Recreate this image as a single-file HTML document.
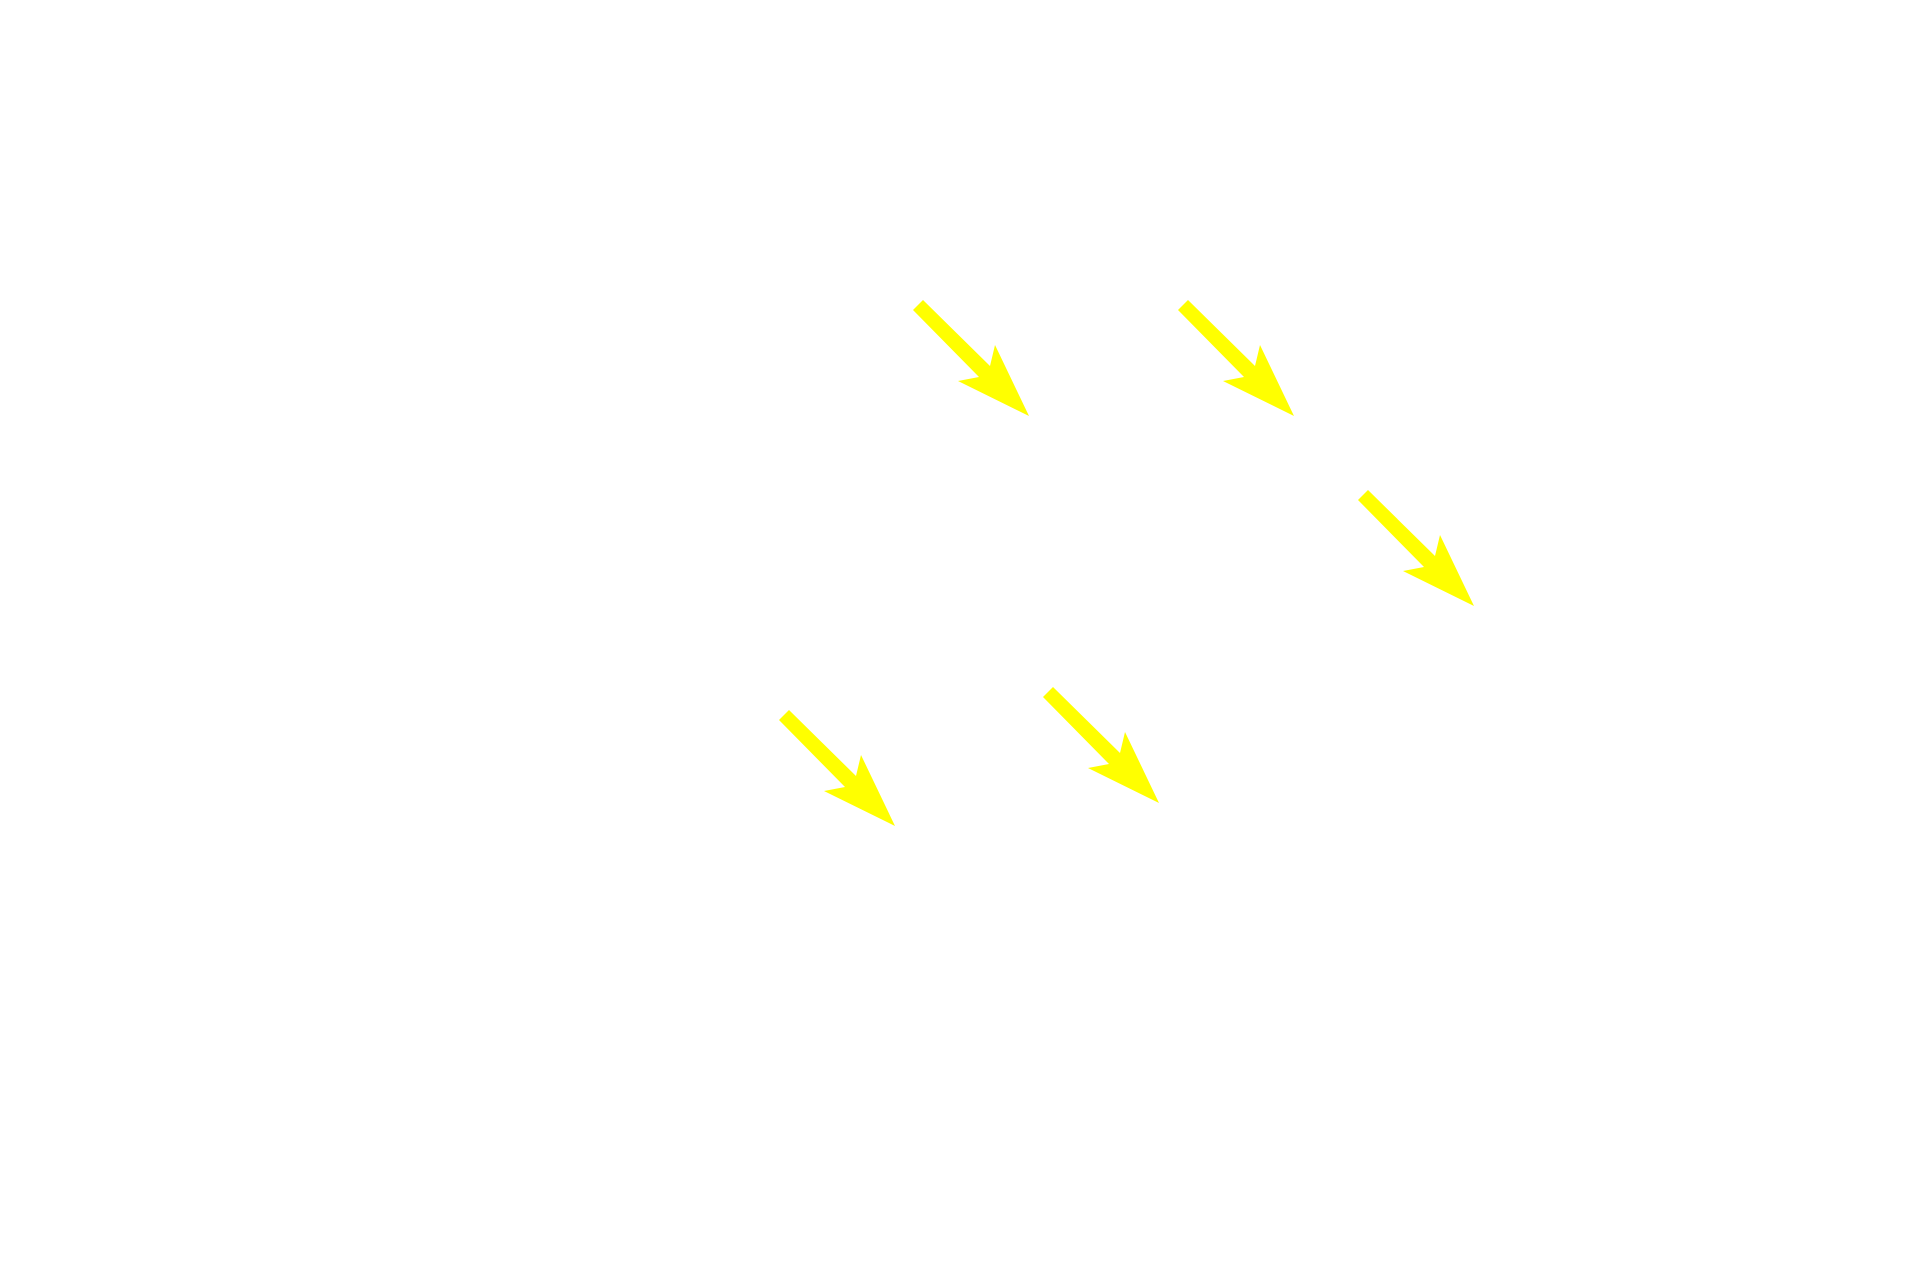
<!DOCTYPE html>
<html><head><style>html,body{margin:0;padding:0;background:#fff;width:1920px;height:1280px;overflow:hidden}</style></head>
<body>
<svg width="1920" height="1280" xmlns="http://www.w3.org/2000/svg">
<defs><polygon id="a" fill="#ffff00" points="0,10 10,0 77,66 82,45 116,116 45,81 66,77"/></defs>
<use href="#a" x="913" y="300"/>
<use href="#a" x="1178" y="300"/>
<use href="#a" x="1358" y="490"/>
<use href="#a" x="779" y="710"/>
<use href="#a" x="1043" y="687"/>
</svg>
</body></html>
